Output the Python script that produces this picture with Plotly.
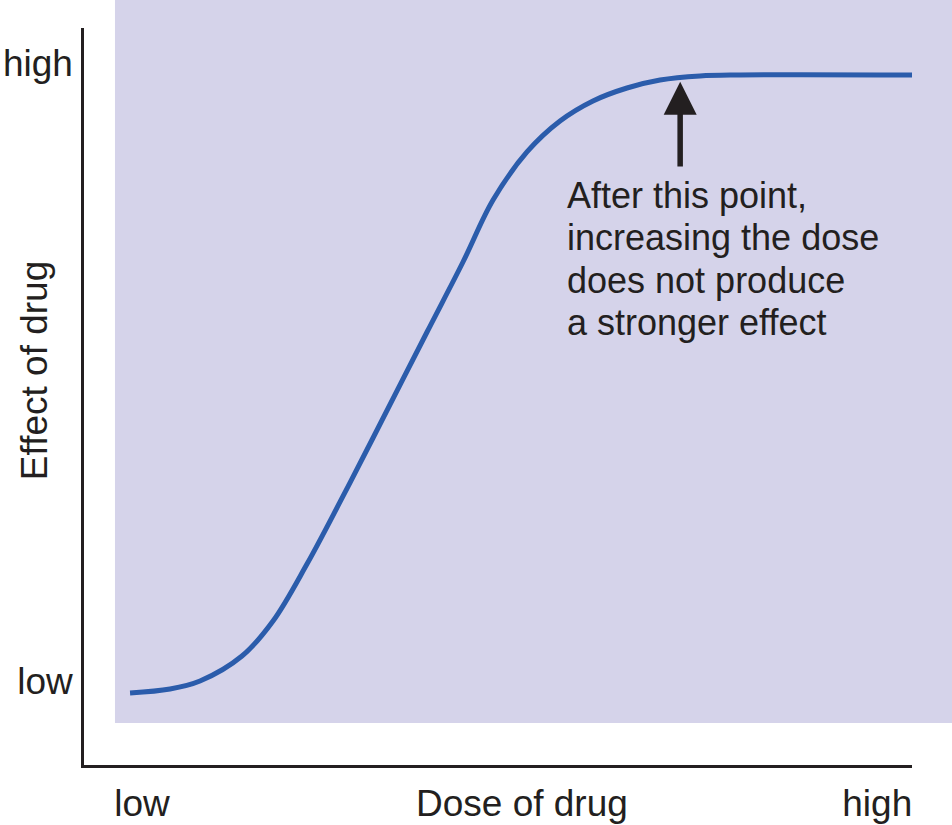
import plotly.graph_objects as go

# Dose (arbitrary units, 0-100) vs effect (arbitrary units, 0-100)
dose = [5.56, 10.39, 14.01, 19.08, 22.83, 26.93, 30.92, 34.90, 41.43,
        45.77, 49.40, 53.50, 57.49, 61.47, 65.58, 69.57, 74.40, 79.23, 100.0]
effect = [9.77, 10.31, 11.40, 14.79, 19.54, 27.27, 35.69, 44.37, 58.75,
          68.25, 76.66, 83.18, 87.38, 90.10, 91.86, 92.94, 93.49, 93.62, 93.62]

x_tick_vals = [7.0, 95.8]
x_tick_text = ["low", "high"]
y_tick_vals = [11.4, 95.2]
y_tick_text = ["low", "high"]

x_title = "Dose of drug"
y_title = "Effect of drug"
note_lines = ["After this point,", "increasing the dose", "does not produce", "a stronger effect"]
note_x = 58.1
note_top_y = 77.3
note_step = 5.77
arrow_x = 72.0
arrow_tip_y = 92.7
arrow_tail_y = 81.0

TEXT = "#231f20"
FONT = "Liberation Sans, Arial, Helvetica, sans-serif"

fig = go.Figure()
fig.add_trace(go.Scatter(
    x=dose, y=effect, mode="lines",
    line=dict(color="#2b5cab", width=5, shape="spline", smoothing=1.0),
    hoverinfo="skip", showlegend=False,
))

fig.add_shape(type="rect", xref="paper", yref="paper",
              x0=0.0374, x1=1.06, y0=0.057, y1=1.05,
              fillcolor="#d5d3ea", line=dict(width=0), layer="below")

fig.add_annotation(x=arrow_x, y=arrow_tip_y, ax=arrow_x, ay=arrow_tail_y,
                   xref="x", yref="y", axref="x", ayref="y",
                   text="", showarrow=True, arrowhead=2, arrowsize=1.2,
                   arrowwidth=5.5, arrowcolor=TEXT)

for i, line_text in enumerate(note_lines):
    fig.add_annotation(x=note_x, y=note_top_y - i * note_step, xref="x", yref="y",
                       text=line_text, showarrow=False,
                       xanchor="left", yanchor="middle", align="left",
                       font=dict(family=FONT, size=36, color=TEXT))

fig.add_annotation(x=52.9, y=-0.052, xref="x", yref="paper",
                   text=x_title, showarrow=False, xanchor="center", yanchor="middle",
                   font=dict(family=FONT, size=37, color=TEXT))

fig.add_annotation(x=-0.059, y=0.5346, xref="paper", yref="paper",
                   text=y_title, showarrow=False, textangle=-90,
                   xanchor="center", yanchor="middle",
                   font=dict(family=FONT, size=37, color=TEXT))

fig.update_layout(
    width=952, height=825,
    margin=dict(l=84, r=40, t=28, b=60, autoexpand=False),
    paper_bgcolor="white", plot_bgcolor="rgba(0,0,0,0)",
    xaxis=dict(range=[0, 100], showgrid=False, zeroline=False, automargin=False,
               showline=True, linecolor=TEXT, linewidth=2.5,
               tickmode="array", tickvals=x_tick_vals, ticktext=x_tick_text,
               ticks="", ticklabelstandoff=4,
               tickfont=dict(family=FONT, size=37, color=TEXT), fixedrange=True),
    yaxis=dict(range=[0, 100], showgrid=False, zeroline=False, automargin=False,
               showline=True, linecolor=TEXT, linewidth=2.5,
               tickmode="array", tickvals=y_tick_vals, ticktext=y_tick_text,
               ticks="", ticklabelstandoff=1,
               tickfont=dict(family=FONT, size=37, color=TEXT), fixedrange=True),
    showlegend=False,
)

fig.write_html("out.html")
